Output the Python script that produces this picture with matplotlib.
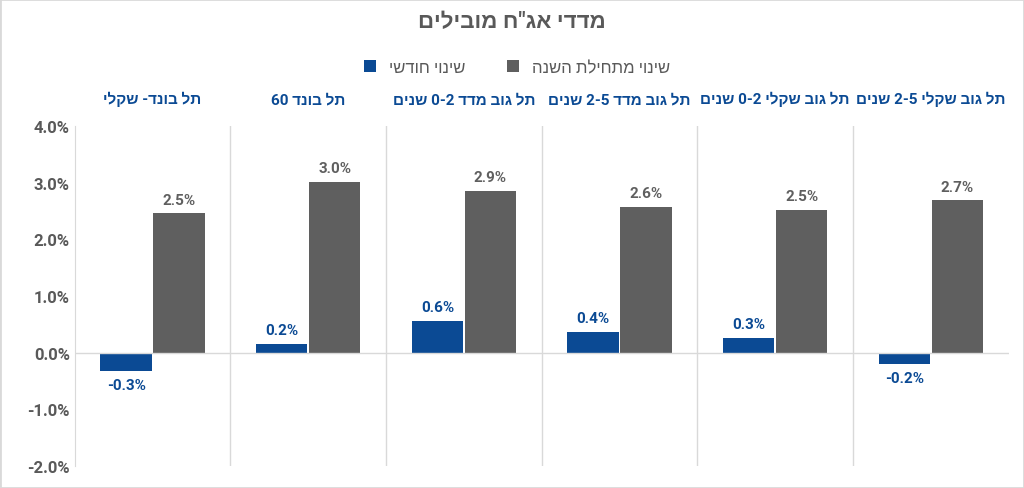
import re
import matplotlib.pyplot as plt
import numpy as np
from matplotlib.patches import Rectangle

plt.rcParams['font.family'] = ['Roboto', 'Liberation Sans', 'DejaVu Sans']


def rtl(s):
    # matplotlib has no bidi support: reverse, then put digit runs back in order
    r = s[::-1]
    return re.sub(r'\d[\d\-]*\d|\d', lambda m: m.group(0)[::-1], r)


categories = ['תל בונד- שקלי', 'תל בונד 60', 'תל גוב מדד 0-2 שנים',
              'תל גוב מדד 2-5 שנים', 'תל גוב שקלי 0-2 שנים', 'תל גוב שקלי 2-5 שנים']
monthly = [-0.32, 0.16, 0.56, 0.37, 0.26, -0.20]
ytd = [2.46, 3.02, 2.86, 2.57, 2.52, 2.69]
yticks = [-2.0, -1.0, 0.0, 1.0, 2.0, 3.0, 4.0]

blue = '#0B4A94'
grey = '#5F5F5F'

fig = plt.figure(figsize=(10.24, 4.89), dpi=100)
fig.patches.append(Rectangle((0, 0), 1, 1, transform=fig.transFigure,
                             fill=False, edgecolor='#D9D9D9', lw=2))
ax = fig.add_axes([0.073, 0.045, 0.912, 0.695])

x = np.arange(len(categories))
w = 0.33
b1 = ax.bar(x - 0.17, monthly, w, color=blue, label=rtl('שינוי חודשי'))
b2 = ax.bar(x + 0.17, ytd, w, color=grey, label=rtl('שינוי מתחילת השנה'))

for bar, v in zip(b1, monthly):
    y = v + 0.12 if v >= 0 else v - 0.12
    ax.text(bar.get_x() + bar.get_width() / 2, y, f'{v:.1f}%', ha='center',
            va='bottom' if v >= 0 else 'top', color=blue, fontsize=11, fontweight='bold')
for bar, v in zip(b2, ytd):
    ax.text(bar.get_x() + bar.get_width() / 2, v + 0.12, f'{v:.1f}%', ha='center',
            va='bottom', color=grey, fontsize=11, fontweight='bold')

for i, c in enumerate(categories):
    ax.text(i, 4.35, rtl(c), ha='center', va='bottom', color=blue,
            fontsize=11, fontweight='bold')

for b in np.arange(0.5, len(categories) - 1, 1.0):
    ax.axvline(b, color='#D9D9D9', lw=1)
ax.axhline(0, color='#D9D9D9', lw=1)

ax.set_xlim(-0.5, len(categories) - 0.5)
ax.set_ylim(-2.0, 4.0)
ax.set_yticks(yticks)
ax.set_yticklabels([f'{t:.1f}%' for t in yticks], fontsize=12, fontweight='bold', color='#595959')
ax.set_xticks([])
ax.tick_params(axis='y', length=0)
for s in ax.spines.values():
    s.set_visible(False)
ax.spines['left'].set_visible(True)
ax.spines['left'].set_color('#D9D9D9')

fig.text(0.5, 0.955, rtl('מדדי אג"ח מובילים'), ha='center', va='center',
         fontsize=16, fontweight='bold', color='#595959')
fig.legend(loc='center', bbox_to_anchor=(0.505, 0.86), ncol=2, frameon=False,
           fontsize=12, handlelength=0.7, handleheight=0.7, columnspacing=2.5,
           labelcolor='#595959')

fig.savefig('out.png', dpi=100)
